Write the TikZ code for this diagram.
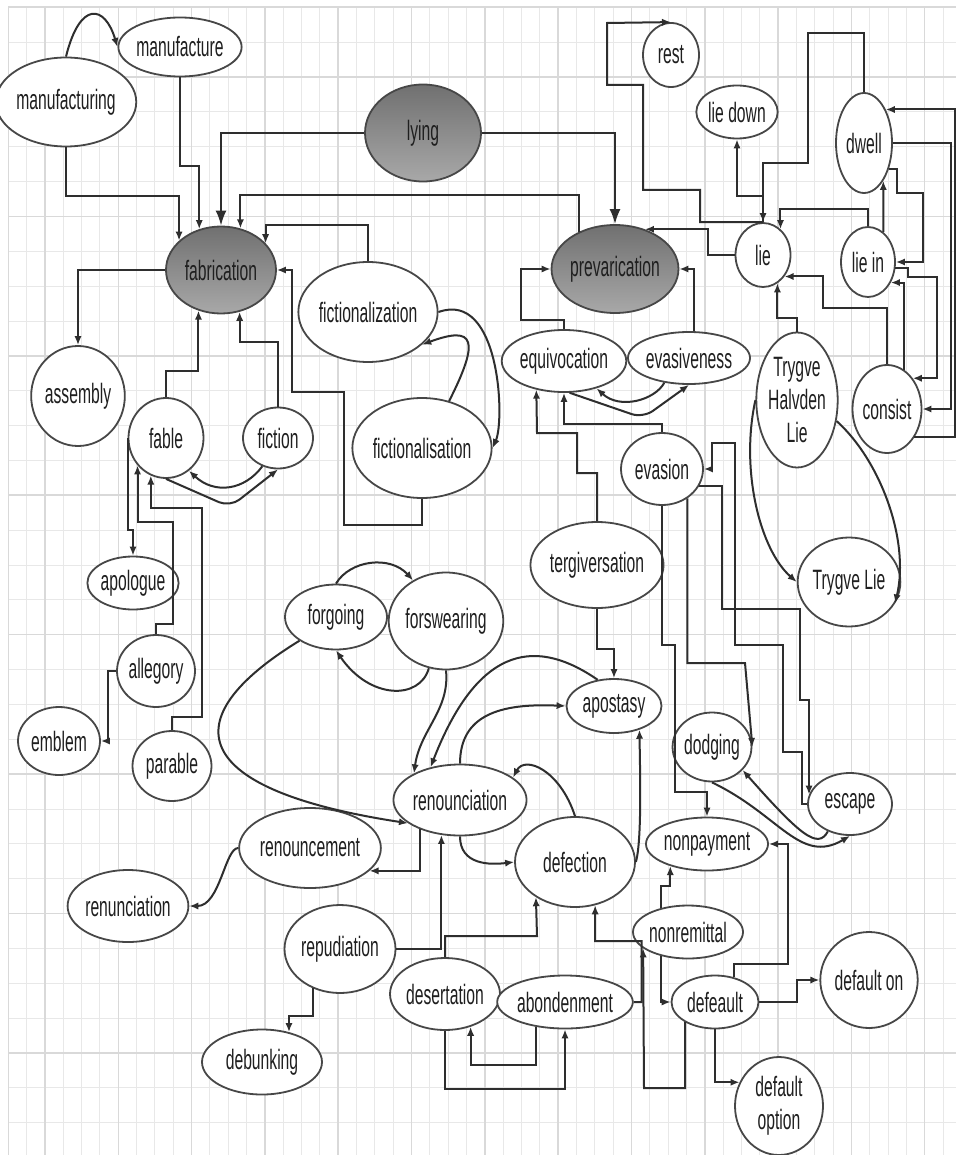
\documentclass[tikz,border=0pt]{standalone}
\usepackage{fontspec}
\setmainfont{Liberation Sans}[FakeStretch=0.56]
\usetikzlibrary{arrows.meta,shapes.geometric}

\begin{document}
\begin{tikzpicture}[x=0.5pt,y=-0.5pt,
  lemma/.style 2 args={ellipse, draw=black!72, line width=0.9pt, fill=white, inner sep=0pt,
    minimum width=#1*0.5pt, minimum height=#2*0.5pt, align=center, text=black!88,
    font=\fontsize{14pt}{16.5pt}\selectfont},
  hub/.style={top color=black!56, bottom color=black!34},
  link/.style={draw=black!82, line width=1pt, -{Latex[length=4.5pt,width=3.6pt]}},
  biglink/.style={link, -{Latex[length=7.5pt,width=5.5pt]}},
  gridminor/.style={draw=black!9, line width=0.5pt},
  gridmajor/.style={draw=black!15, line width=0.8pt}]

  % Sheet
  \fill[white] (0,0) rectangle (956,1155);
  \useasboundingbox (0,0) rectangle (956,1155);
  \foreach \gx in {0,...,51}
    \draw[gridminor] ({8.3+18.33*\gx},7.3) -- ({8.3+18.33*\gx},1155);
  \foreach \gy in {0,...,32}
    \draw[gridminor] (8.3,{7.3+34.86*\gy}) -- (956,{7.3+34.86*\gy});
  \foreach \gx in {0,...,12}
    \draw[gridmajor] ({45+73.3*\gx},7.3) -- ({45+73.3*\gx},1155);
  \foreach \gy in {0,...,7}
    \draw[gridmajor] (8.3,{77+139.4*\gy}) -- (956,{77+139.4*\gy});
  \draw[gridmajor] (8.3,1155) -- (8.3,7.3) -- (956,7.3);

  % Hubs
  \node[lemma={116}{97}, hub] (lying) at (423,133) {lying};
  \node[lemma={110}{87}, hub] (fabr) at (221,270) {fabrication};
  \node[lemma={126}{88}, hub] (prev) at (615,269) {prevarication};

  % Fabrication side
  \node[lemma={115}{89}] (manufg) at (66,102) {manufacturing};
  \node[lemma={111}{59}] (manuf) at (180,47) {manufacture};
  \node[lemma={111}{100}] (fictz) at (368,312) {fictionalization};
  \node[lemma={110}{100}] (ficts) at (422,448) {fictionalisation};
  \node[lemma={82}{100}] (assembly) at (78,396) {assembly};
  \node[lemma={75}{80}] (fable) at (166,438) {fable};
  \node[lemma={70}{61}] (fiction) at (278,438) {fiction};
  \node[lemma={74}{53}] (apologue) at (133,583) {apologue};
  \node[lemma={78}{72}] (allegory) at (156,671) {allegory};
  \node[lemma={82}{68}] (emblem) at (59,741) {emblem};
  \node[lemma={79}{70}] (parable) at (172,766) {parable};

  % Lie side
  \node[lemma={56}{64}] (rest) at (671,55) {rest};
  \node[lemma={78}{53}] (liedown) at (737,112) {lie down};
  \node[lemma={56}{100}] (dwell) at (864,143) {dwell};
  \node[lemma={55}{64}] (lie) at (763,255) {lie};
  \node[lemma={54}{70}] (liein) at (868,262) {lie in};
  \node[lemma={66}{88}] (consist) at (887,409) {consist};
  \node[lemma={78}{135}] (thl) at (797,400) {Trygve\\Halvden\\Lie};
  \node[lemma={99}{89}] (tlie) at (849,582) {Trygve Lie};

  % Prevarication side
  \node[lemma={122}{62}] (equiv) at (564,361) {equivocation};
  \node[lemma={92}{52}] (evasv) at (689,358) {evasiveness};
  \node[lemma={82}{72}] (evasion) at (662,469) {evasion};
  \node[lemma={111}{86}] (tergiv) at (597,565) {tergiversation};
  \node[lemma={95}{54}] (apost) at (614,706) {apostasy};
  \node[lemma={67}{69}] (dodging) at (712,747) {dodging};
  \node[lemma={84}{62}] (escape) at (850,804) {escape};

  % Renounciation side
  \node[lemma={102}{65}] (forgoing) at (336,617) {forgoing};
  \node[lemma={102}{97}] (forswear) at (446,621) {forswearing};
  \node[lemma={111}{71}] (renounc) at (460,800) {renounciation};
  \node[lemma={106}{80}] (renoucm) at (310,848) {renouncement};
  \node[lemma={110}{72}] (renunc) at (128,906) {renunciation};
  \node[lemma={111}{88}] (repud) at (340,949) {repudiation};
  \node[lemma={120}{65}] (debunk) at (262,1062) {debunking};
  \node[lemma={120}{90}] (defect) at (575,862) {defection};
  \node[lemma={110}{72}] (desert) at (445,994) {desertation};
  \node[lemma={107}{53}] (abond) at (565,1002) {abondenment};

  % Default side
  \node[lemma={102}{53}] (nonpay) at (707,844) {nonpayment};
  \node[lemma={110}{53}] (nonrem) at (688,932) {nonremittal};
  \node[lemma={87}{53}] (defeault) at (715,1002) {defeault};
  \node[lemma={82}{96}] (defon) at (869,980) {default on};
  \node[lemma={88}{98}] (defopt) at (779,1106) {default\\option};

  % Lying
  \draw[biglink] (lying.west) -| (fabr.north);
  \draw[biglink] (lying.east) -| (prev.north);

  % Into fabrication
  \draw[link] (manufg.north) .. controls (80,0) and (105,5) .. (manuf.west);
  \draw[link] (manuf.south) -- ++(0,89) -| (fabr.118);
  \draw[link] (manufg.south) -- ++(0,49) -| (fabr.145);
  \draw[link] (prev.134) -- ++(0,-37) -| (fabr.65);
  \draw[link] (fictz.north) -- ++(0,-36) -| (fabr.31);
  \draw[link] (ficts.south) |- (344,525) |- (292,392) |- (fabr.east);
  \draw[link] (fabr.west) -| (assembly.north);
  \draw[link] (fable.north) -- ++(0,-26) -| (fabr.241);
  \draw[link] (fiction.north) -- ++(0,-65) -| (fabr.294);
  \draw[link] (fictz.east) .. controls (500,290) and (505,420) .. (ficts.east);
  \draw[link] (ficts.60) .. controls (480,340) and (475,325) .. (fictz.-31);

  % Fable
  \draw[link] (fiction.241) .. controls (245,490) and (215,495) .. (fable.-55);
  \draw[link, rounded corners=6pt] (fable.south) -- (230,507) -- (fiction.south);
  \draw[link] (fable.west) |- (133,530) -- (apologue.north);
  \draw[link] (allegory.north) -- ++(0,-10) -| (173,522) -| (fable.224);
  \draw[link] (parable.north) -- ++(0,-13) -| (202,508) -| (fable.248);
  \draw[link] (allegory.west) -- ++(-8,0) |- (emblem.east);

  % Lie
  \draw[link] (lie.north) -| (700,190) -| (643,85) -| (607,23) -- (rest.north);
  \draw[link] (lie.north) -- ++(0,-26) -| (liedown.south);
  \draw[link] (dwell.north) |- (808,33) |- (763,163) -- (lie.north);
  \draw[link] (lie.west) -- ++(-27,0) |- (prev.53);
  \draw[link] (liein.north) -- ++(0,-17) -| (lie.56);
  \draw[link] (liein.63) -- (dwell.297);
  \draw[link] (dwell.-46) -- ++(8,0) |- (923,193) |- (liein.east);
  \draw[link] (dwell.east) -- ++(58,0) |- (consist.east);
  \draw[link] (consist.-46) -- ++(41,0) |- (dwell.57);
  \draw[link] (liein.-13) -- ++(13,0) |- (937,277) |- (consist.50);
  \draw[link] (consist.66) |- (liein.-42);
  \draw[link] (consist.north) |- (823,308) |- (lie.-45);
  \draw[link] (thl.north) -- ++(0,-14) -| (lie.297);
  \draw[link] (thl.west) .. controls (740,470) and (760,550) .. (tlie.west);
  \draw[link] (thl.-28) .. controls (880,460) and (910,540) .. (tlie.-25);

  % Prevarication
  \draw[link] (equiv.north) |- (521,320) |- (prev.west);
  \draw[link] (evasv.80) |- (prev.east);
  \draw[link] (evasv.225) .. controls (655,400) and (620,410) .. (equiv.-40);
  \draw[link, rounded corners=6pt] (equiv.-80) -- (643,418) -- (evasv.south);
  \draw[link] (evasion.north) -- ++(0,-8) -| (equiv.south);
  \draw[link] (tergiv.north) |- (577,473) |- (537,433) -- (equiv.226);
  \draw[link] (tergiv.south) -- ++(0,40) -| (apost.north);

  % Evasion
  \draw[link] (evasion.-24) -| (722,609) -| (800,700) -| (escape.167);
  \draw[link] (escape.west) -- ++(-5,0) |- (783,752) |- (735,645) |- (712,443) |- (evasion.east);
  \draw[link] (evasion.-49) |- (745,663) -- (dodging.east);
  \draw[link] (evasion.south) |- (675,645) |- (707,792) -- (nonpay.north);
  \draw[link] (dodging.south) .. controls (780,815) and (800,865) .. (escape.south);
  \draw[link] (escape.231) .. controls (818,850) and (800,835) .. (dodging.-37);

  % Default
  \draw[link] (defeault.53) |- (788,964) |- (nonpay.east);
  \draw[link] (nonrem.138) -- ++(0,-22) -| (nonpay.211);
  \draw[link] (nonrem.222) |- (defeault.west);
  \draw[link] (defeault.214) |- (644,1088) -- (nonrem.200);
  \draw[link] (defeault.east) -| (797,980) -- (defon.west);
  \draw[link] (defeault.south) |- (defopt.149);

  % Defection
  \draw[link] (abond.east) -- ++(8,0) |- (595,941) -- (defect.295);
  \draw[link] (desert.north) |- (537,936) -- (defect.222);
  \draw[link] (desert.south) -- ++(0,58) -| (abond.south);
  \draw[link] (abond.220) -- ++(0,38) -| (desert.308);

  % Renounciation
  \draw[link] (repud.east) -| (renounc.242);
  \draw[link] (renounc.216) |- (renoucm.-21);
  \draw[link] (renoucm.west) .. controls (225,848) and (220,906) .. (renunc.east);
  \draw[link] (repud.235) -- ++(0,28) -| (debunk.48);
  \draw[link] (renounc.north) .. controls (460,715) and (500,703) .. (apost.west);
  \draw[link] (apost.122) .. controls (540,640) and (480,640) .. (renounc.132);
  \draw[link] (forswear.south) .. controls (450,710) and (420,730) .. (renounc.150);
  \draw[link] (forswear.250) .. controls (420,700) and (370,700) .. (forgoing.south);
  \draw[link] (forgoing.north) .. controls (350,560) and (390,555) .. (forswear.129);
  \draw[link] (forgoing.213) .. controls (170,720) and (190,790) .. (renounc.204);
  \draw[link] (defect.north) .. controls (560,770) and (525,755) .. (renounc.23);
  \draw[link] (renounc.south) .. controls (460,865) and (490,865) .. (defect.west);
  \draw[link] (defect.east) .. controls (642,840) and (640,770) .. (apost.-43);
\end{tikzpicture}
\end{document}
